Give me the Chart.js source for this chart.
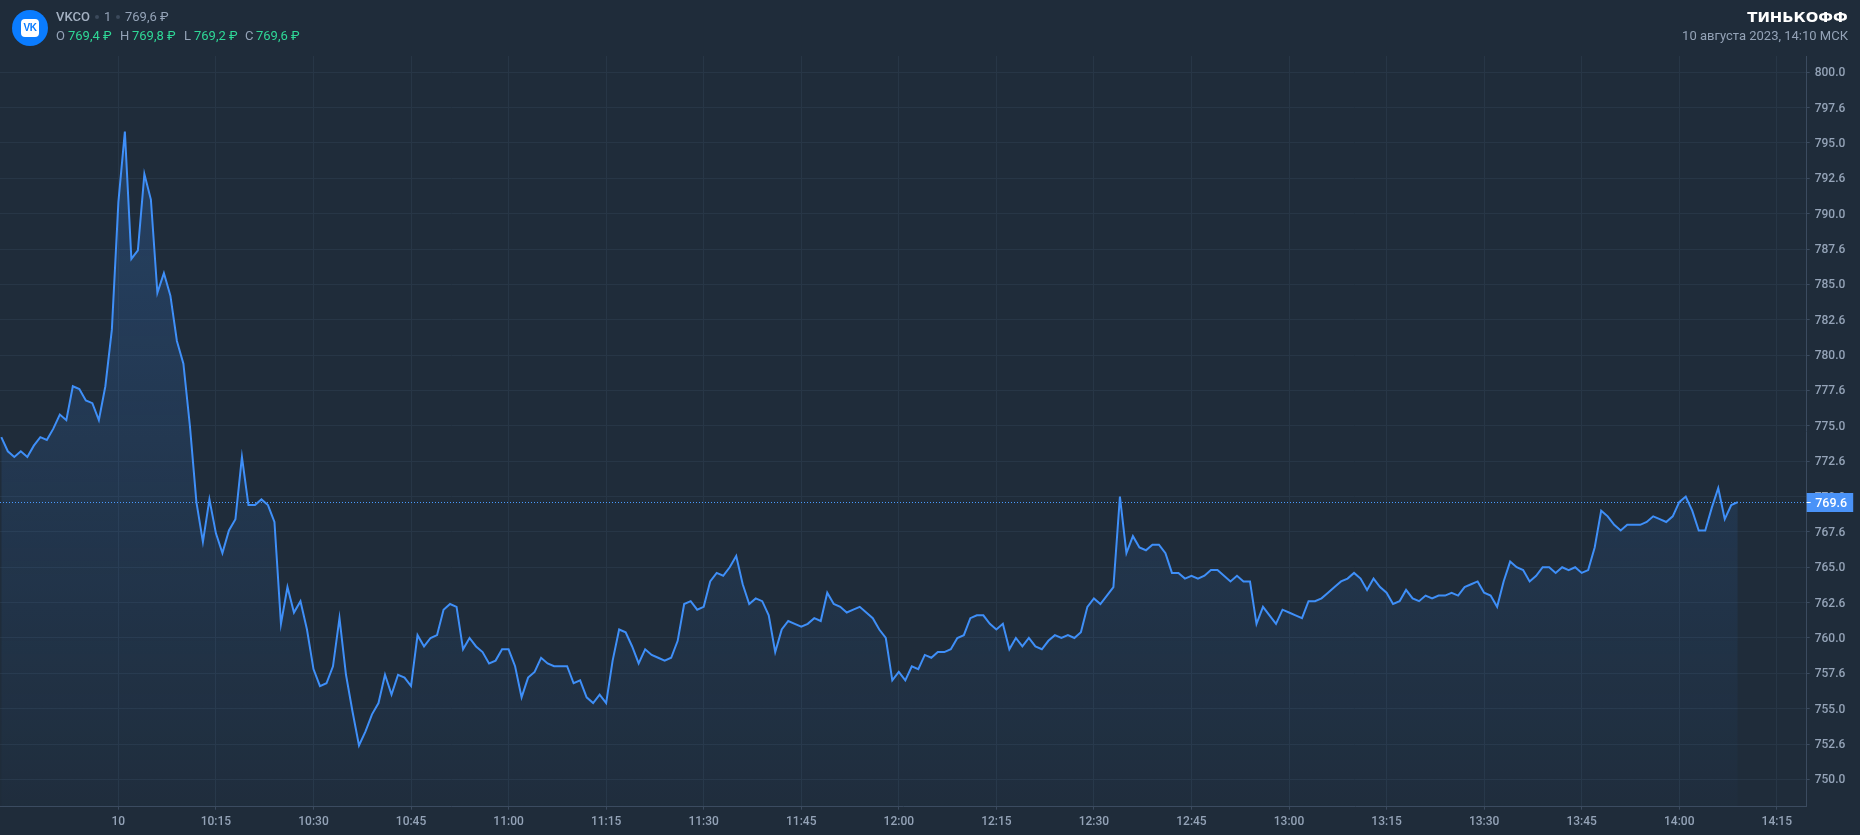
<!DOCTYPE html>
<html>
<head>
<meta charset="utf-8">
<title>VKCO</title>
<script src="https://cdn.jsdelivr.net/npm/chart.js@4"></script>
<style>
    html, body { margin: 0; padding: 0; background: #1f2c3a; overflow: hidden; }
    #wrap { position: relative; width: 1860px; height: 835px; font-family: Roboto, sans-serif; font-size: 13px; color: #94a3b7; }
    canvas { position: absolute; left: 0; top: 0; }
    .t { position: absolute; white-space: nowrap; line-height: 16px; }
    .g { color: #2fd897; }
    .logo { position: absolute; left: 12px; top: 10px; width: 36px; height: 36px; border-radius: 50%; background: #0a7cff; }
    .logo div { position: absolute; left: 9px; top: 9px; width: 18px; height: 18px; border-radius: 4px; background: #fff; color: #0a7cff;
        font: bold 10px/18px "Liberation Sans", sans-serif; text-align: center; letter-spacing: -0.5px; }
    .dot { position: absolute; width: 4px; height: 4px; border-radius: 50%; background: #3c4a5b; }
</style>
</head>
<body>
<div id="wrap">
    <canvas id="price-chart" width="1860" height="835"></canvas>
    <div class="logo"><div>VK</div></div>
    <div class="t" style="left:56px;top:9px;font-weight:500;color:#a4b1c2">VKCO</div>
    <div class="dot" style="left:95px;top:15px"></div>
    <div class="t" style="left:104px;top:9px">1</div>
    <div class="dot" style="left:116px;top:15px"></div>
    <div class="t" style="left:125px;top:9px">769,6 ₽</div>
    <div class="t" style="left:56px;top:28px">O</div>
    <div class="t g" style="left:68px;top:28px">769,4 ₽</div>
    <div class="t" style="left:120px;top:28px">H</div>
    <div class="t g" style="left:132px;top:28px">769,8 ₽</div>
    <div class="t" style="left:184px;top:28px">L</div>
    <div class="t g" style="left:194px;top:28px">769,2 ₽</div>
    <div class="t" style="left:245px;top:28px">C</div>
    <div class="t g" style="left:256px;top:28px">769,6 ₽</div>
    <div class="t" style="right:12px;top:9px;font:bold 14px/16px 'DejaVu Sans',sans-serif;transform:scaleX(1.06);transform-origin:right;color:#fff">ТИНЬКОФФ</div>
    <div class="t" style="right:12px;top:28px">10 августа 2023, 14:10 МСК</div>
</div>
<script>
// minute of the first bar, counted from 10:00
const firstMinute = -18;

// close of every 1 minute bar
const prices = [
    774.2, 773.2, 772.8, 773.2, 772.8, 773.6, 774.2, 774.0, 774.8, 775.8, 775.4, 777.8, 777.6, 776.8, 776.6, 775.4, 777.8, 781.8,
    790.8, 795.8, 786.8, 787.4, 792.8, 791.0, 784.4, 785.8, 784.2, 781.0, 779.4, 775.0,
    769.6, 766.8, 769.8, 767.4, 766.0, 767.6, 768.4, 772.8, 769.4, 769.4, 769.8, 769.4, 768.2,
    761.0, 763.6, 761.8, 762.6, 760.6, 757.8, 756.6, 756.8, 758.0, 761.4, 757.4, 754.8, 752.4, 753.4, 754.6, 755.4, 757.4, 756.0, 757.4, 757.2, 756.6,
    760.2, 759.4, 760.0, 760.2, 762.0, 762.4, 762.2, 759.2, 760.0, 759.4, 759.0, 758.2, 758.4, 759.2, 759.2, 758.0, 755.8, 757.2, 757.6, 758.6, 758.2,
    758.0, 758.0, 758.0, 756.8, 757.0, 755.8, 755.4, 756.0, 755.4, 758.4, 760.6, 760.4, 759.4, 758.2,
    759.2, 758.8, 758.6, 758.4, 758.6, 759.8, 762.4, 762.6, 762.0, 762.2, 764.0, 764.6, 764.4, 765.0, 765.8, 763.8, 762.4, 762.8, 762.6, 761.6,
    759.0, 760.6, 761.2, 761.0, 760.8, 761.0, 761.4, 761.2, 763.2, 762.4, 762.2, 761.8, 762.0, 762.2, 761.8, 761.4, 760.6, 760.0,
    757.0, 757.6, 757.0, 758.0, 757.8, 758.8, 758.6, 759.0, 759.0, 759.2, 760.0, 760.2, 761.4, 761.6, 761.6, 761.0, 760.6, 761.0, 759.2, 760.0,
    759.4, 760.0, 759.4, 759.2, 759.8, 760.2, 760.0, 760.2,
    760.0, 760.4, 762.2, 762.8, 762.4, 763.0, 763.6, 770.0, 766.0, 767.2, 766.4, 766.2, 766.6, 766.6, 766.0, 764.6, 764.6, 764.2, 764.4, 764.2,
    764.4, 764.8, 764.8, 764.4, 764.0, 764.4, 764.0, 764.0, 761.0, 762.2, 761.6, 761.0, 762.0, 761.8, 761.6, 761.4, 762.6, 762.6, 762.8, 763.2,
    763.6, 764.0, 764.2, 764.6, 764.2, 763.4, 764.2, 763.6, 763.2, 762.4, 762.6, 763.4, 762.8, 762.6, 763.0, 762.8, 763.0, 763.0, 763.2, 763.0,
    763.6, 763.8, 764.0, 763.2, 763.0, 762.2, 764.0, 765.4, 765.0, 764.8, 764.0, 764.4, 765.0, 765.0, 764.6, 765.0, 764.8, 765.0, 764.6, 764.8,
    766.4, 769.0, 768.6, 768.0, 767.6, 768.0, 768.0, 768.0, 768.2, 768.6, 768.4, 768.2, 768.6, 769.6, 770.0, 769.0, 767.6, 767.6, 769.2, 770.6,
    768.4, 769.4, 769.6
];

const timeTicks = [0, 15, 30, 45, 60, 75, 90, 105, 120, 135, 150, 165, 180, 195, 210, 225, 240, 255];
const timeLabels = ['10', '10:15', '10:30', '10:45', '11:00', '11:15', '11:30', '11:45', '12:00', '12:15', '12:30', '12:45', '13:00', '13:15', '13:30', '13:45', '14:00', '14:15'];

const priceTicks = [750, 752.5, 755, 757.5, 760, 762.5, 765, 767.5, 770, 772.5, 775, 777.5, 780, 782.5, 785, 787.5, 790, 792.5, 795, 797.5, 800];
const priceLabels = ['750.0', '752.6', '755.0', '757.6', '760.0', '762.6', '765.0', '767.6', '770.0', '772.6', '775.0', '777.6', '780.0', '782.6', '785.0', '787.6', '790.0', '792.6', '795.0', '797.6', '800.0'];

const lastPrice = 769.6;
const lastLabel = '769.6';

const lineColor = '#3f8ff8';
const gridColor = '#273646';
const textColor = '#94a3b7';
const axisColor = '#3b4b5f';

// dotted line and blue box of the last price
const lastPricePlugin = {
    id: 'lastPrice',
    afterDraw(chart) {
        const { ctx, chartArea } = chart;
        const y = Math.round(chart.scales.y.getPixelForValue(lastPrice)) + 0.5;
        ctx.save();
        ctx.strokeStyle = '#4a9bff';
        ctx.lineWidth = 1;
        ctx.setLineDash([1, 2]);
        ctx.beginPath();
        ctx.moveTo(chartArea.left, y);
        ctx.lineTo(chartArea.right, y);
        ctx.stroke();
        ctx.setLineDash([]);
        ctx.fillStyle = '#4a93f8';
        ctx.fillRect(chartArea.right, y - 9.5, 46.5, 19);
        ctx.strokeStyle = '#ffffff';
        ctx.beginPath();
        ctx.moveTo(chartArea.right, y);
        ctx.lineTo(chartArea.right + 4, y);
        ctx.stroke();
        ctx.fillStyle = '#ffffff';
        ctx.font = '500 12.5px Roboto';
        ctx.textBaseline = 'middle';
        ctx.fillText(lastLabel, chartArea.right + 8.5, y + 1);
        ctx.restore();
    }
};

const ctx = document.getElementById('price-chart').getContext('2d');
const priceChart = new Chart(ctx, {
    type: 'line',
    data: {
        datasets: [{
            label: 'VKCO',
            data: prices.map((p, i) => ({ x: firstMinute + i, y: p })),
            borderColor: lineColor,
            borderWidth: 2,
            borderJoinStyle: 'miter',
            pointRadius: 0,
            tension: 0,
            fill: 'start',
            backgroundColor: (c) => {
                const area = c.chart.chartArea;
                if (!area) return 'transparent';
                const grad = c.chart.ctx.createLinearGradient(0, 130, 0, area.bottom);
                grad.addColorStop(0, 'rgba(63,140,242,0.22)');
                grad.addColorStop(1, 'rgba(63,140,242,0.02)');
                return grad;
            }
        }]
    },
    options: {
        responsive: false,
        animation: false,
        devicePixelRatio: 1,
        layout: { padding: { top: 56 } },
        plugins: { legend: { display: false }, tooltip: { enabled: false } },
        scales: {
            x: {
                type: 'linear',
                min: -18.2,
                max: 259.6,
                afterBuildTicks: (scale) => { scale.ticks = timeTicks.map(v => ({ value: v })); },
                afterFit: (scale) => { scale.height = 28.3; },
                grid: { color: gridColor, tickLength: 3, tickColor: axisColor },
                border: { color: axisColor },
                ticks: {
                    autoSkip: false,
                    maxRotation: 0,
                    padding: 5,
                    color: textColor,
                    font: { family: 'Roboto', size: 12, weight: '500' },
                    callback: (v, i) => timeLabels[i]
                }
            },
            y: {
                position: 'right',
                min: 748.07,
                max: 801.15,
                afterBuildTicks: (scale) => { scale.ticks = priceTicks.map(v => ({ value: v })); },
                afterFit: (scale) => { scale.width = 53.3; },
                grid: { color: gridColor, tickLength: 3, tickColor: axisColor },
                border: { color: axisColor },
                ticks: {
                    autoSkip: false,
                    padding: 5,
                    labelOffset: 1,
                    color: textColor,
                    font: { family: 'Roboto', size: 12, weight: '500' },
                    callback: (v, i) => priceLabels[i]
                }
            }
        }
    },
    plugins: [lastPricePlugin]
});
</script>
</body>
</html>
